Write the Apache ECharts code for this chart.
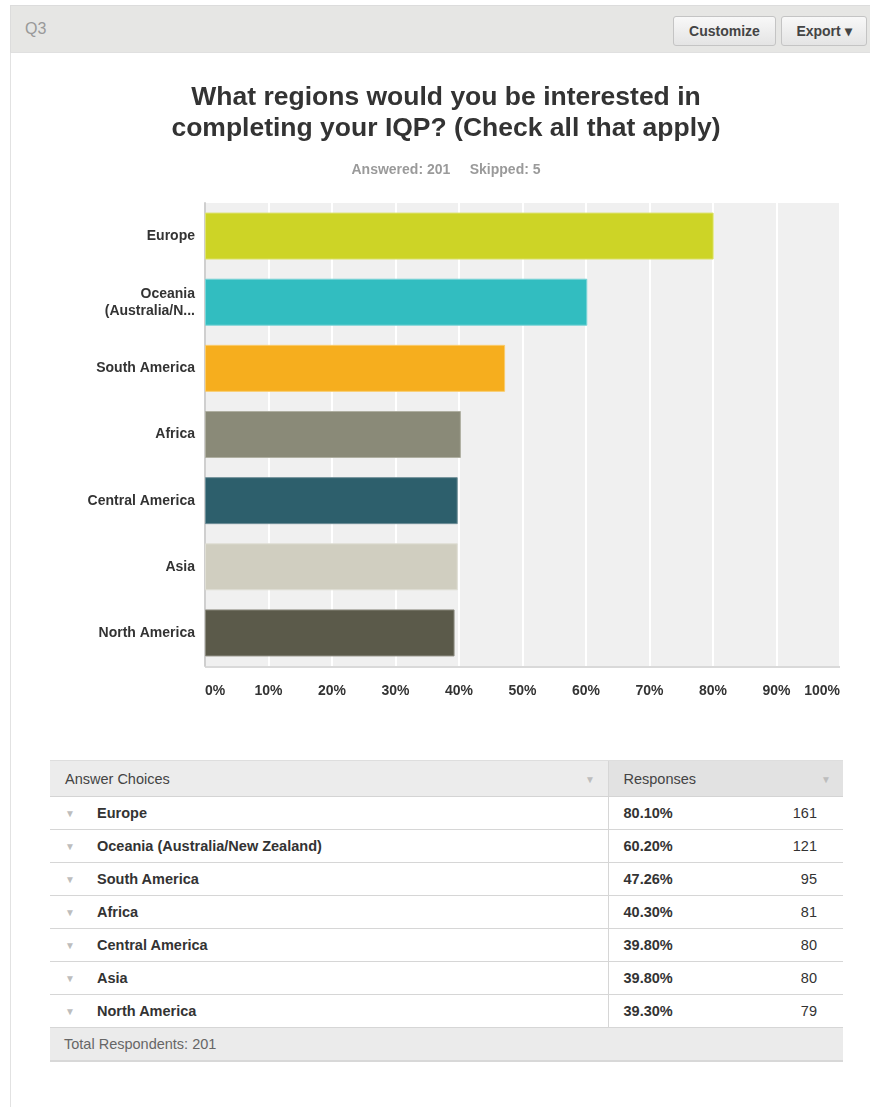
<!DOCTYPE html>
<html>
<head>
<meta charset="utf-8">
<script src="https://cdn.jsdelivr.net/npm/echarts@6/dist/echarts.min.js"></script>
<style>
  html, body { margin: 0; padding: 0; background: #fff; }
  body { width: 870px; height: 1107px; position: relative; overflow: hidden;
         font-family: "Liberation Sans", Arial, sans-serif; }
  #panel { position: absolute; left: 10px; top: 53px; width: 870px; height: 1060px;
           border-left: 1px solid #e2e2e2; }
  #head { position: absolute; left: 10px; top: 5px; width: 870px; height: 48px;
          background: #e6e6e4; border-top: 1px solid #dcdcdc; border-left: 1px solid #dcdcdc;
          border-bottom: 1px solid #e0e0e0; box-sizing: border-box; }
  #qnum { position: absolute; left: 14px; top: 14px; font-size: 16px; color: #999; }
  .btn { position: absolute; top: 10px; height: 30px; box-sizing: border-box;
         border: 1px solid #c4c4c4; border-radius: 3px;
         background: linear-gradient(#f8f8f8, #e4e4e4);
         font-size: 14px; font-weight: bold; color: #444; line-height: 28px; text-align: center; }
  #chart { position: absolute; left: 0; top: 0; width: 870px; height: 740px; }
  #tbl { position: absolute; left: 50px; top: 760px; width: 793px; border-collapse: collapse;
         font-size: 14.5px; color: #333; table-layout: fixed; }
  #tbl td { padding: 0; box-sizing: border-box; position: relative; }
  #tbl tr.hd td { height: 36px; background: #ececec; border-top: 1px solid #dedede;
                  border-bottom: 1px solid #d4d4d4; color: #444; }
  #tbl tr.hd td.c2 { background: #e2e2e2; }
  #tbl tr.row td { height: 33px; border-bottom: 1px solid #d6d6d6; }
  #tbl td.c1 { width: 558px; }
  #tbl td.c2 { border-left: 1px solid #d6d6d6; }
  #tbl tr.tot td { height: 33px; background: #ebebeb; border-bottom: 2px solid #d8d8d8;
                   color: #666; font-size: 14.5px; padding-left: 14px; }
  .arrow { position: absolute; font-size: 10px; color: #bdbdbd; top: 50%; transform: translateY(-45%); }
  .name { position: absolute; left: 47px; top: 50%; transform: translateY(-50%); font-weight: bold; }
  .pct { position: absolute; left: 15px; top: 50%; transform: translateY(-50%); font-weight: bold; }
  .cnt { position: absolute; right: 26px; top: 50%; transform: translateY(-50%); }
  .hdtxt { position: absolute; top: 50%; transform: translateY(-50%); }
</style>
</head>
<body>
<div id="panel"></div>
<div id="head">
  <div id="qnum">Q3</div>
  <div class="btn" style="left:662px;width:103px;">Customize</div>
  <div class="btn" style="left:770px;width:86px;">Export &#9662;</div>
</div>
<div id="chart"></div>
<table id="tbl"></table>
<script>
// Survey question Q3: regions of interest (multiple answers allowed)
const questionTitle = 'What regions would you be interested in\ncompleting your IQP? (Check all that apply)';
const answeredCount = 201;
const skippedCount = 5;
const categories = ['Europe', 'Oceania (Australia/New Zealand)', 'South America', 'Africa',
                    'Central America', 'Asia', 'North America'];
const axisLabels = ['Europe', 'Oceania\n(Australia/N...', 'South America', 'Africa',
                    'Central America', 'Asia', 'North America'];
const percents = [80.10, 60.20, 47.26, 40.30, 39.80, 39.80, 39.30];
const counts = [161, 121, 95, 81, 80, 80, 79];
const barColors = ['#cdd426', '#32bdc0', '#f6ae1e', '#8a8a78', '#2d5f6c', '#d0cec0', '#5b5a4a'];
const barBorders = ['#dde270', '#7ad4d6', '#f9cb6c', '#afafa1', '#6f8f98', '#dfded4', '#8d8c80'];
const xTicks = [0, 10, 20, 30, 40, 50, 60, 70, 80, 90, 100];

const chart = echarts.init(document.getElementById('chart'), null, { renderer: 'canvas' });
const font = '"Liberation Sans", Arial, sans-serif';

chart.setOption({
  animation: false,
  title: [
    {
      text: questionTitle,
      left: 441, top: 77, textAlign: 'center',
      textStyle: { fontFamily: font, fontSize: 26.5, fontWeight: 'bold', color: '#333', lineHeight: 31 }
    },
    {
      text: 'Answered: ' + answeredCount + '     Skipped: ' + skippedCount,
      left: 441, top: 158, textAlign: 'center',
      textStyle: { fontFamily: font, fontSize: 14, fontWeight: 'bold', color: '#9a9a9a' }
    }
  ],
  grid: {
    left: 205, top: 203, width: 635, height: 463,
    show: true, backgroundColor: '#f0f0f0', borderWidth: 0, containLabel: false
  },
  xAxis: {
    type: 'value', min: 0, max: 100, interval: 10,
    axisLine: { show: false },
    axisTick: { show: false },
    splitLine: { show: true, lineStyle: { color: '#ffffff', width: 2 } },
    axisLabel: {
      margin: 18, fontFamily: font, fontSize: 14, fontWeight: 'bold', color: '#333',
      alignMinLabel: 'left', alignMaxLabel: 'right',
      customValues: xTicks,
      formatter: v => v + '%'
    }
  },
  yAxis: {
    type: 'category', inverse: true,
    data: categories,
    axisLine: { show: true, lineStyle: { color: '#cfcfcf', width: 2 } },
    axisTick: { show: false },
    splitLine: { show: false },
    axisLabel: {
      margin: 10, fontFamily: font, fontSize: 14, fontWeight: 'bold', color: '#333',
      lineHeight: 17, align: 'right',
      formatter: (v, i) => axisLabels[i]
    }
  },
  series: [{
    type: 'bar',
    barWidth: 47,
    data: percents.map((p, i) => ({
      value: p,
      itemStyle: { color: barColors[i], borderColor: barBorders[i], borderWidth: 1 }
    }))
  }],
  graphic: [{
    type: 'rect', silent: true,
    shape: { x: 205, y: 666, width: 635, height: 2 },
    style: { fill: '#d9d9d9' }
  }]
});

// Response table below the chart
const tbl = document.getElementById('tbl');
let html = '<tr class="hd"><td class="c1"><span class="hdtxt" style="left:15px">Answer Choices</span>' +
           '<span class="arrow" style="left:535px">&#9660;</span></td>' +
           '<td class="c2"><span class="hdtxt" style="left:15px">Responses</span>' +
           '<span class="arrow" style="right:12px">&#9660;</span></td></tr>';
categories.forEach((c, i) => {
  html += '<tr class="row"><td class="c1"><span class="arrow" style="left:15px">&#9660;</span>' +
          '<span class="name">' + c + '</span></td>' +
          '<td class="c2"><span class="pct">' + percents[i].toFixed(2) + '%</span>' +
          '<span class="cnt">' + counts[i] + '</span></td></tr>';
});
html += '<tr class="tot"><td colspan="2">Total Respondents: ' + answeredCount + '</td></tr>';
tbl.innerHTML = html;
</script>
</body>
</html>
